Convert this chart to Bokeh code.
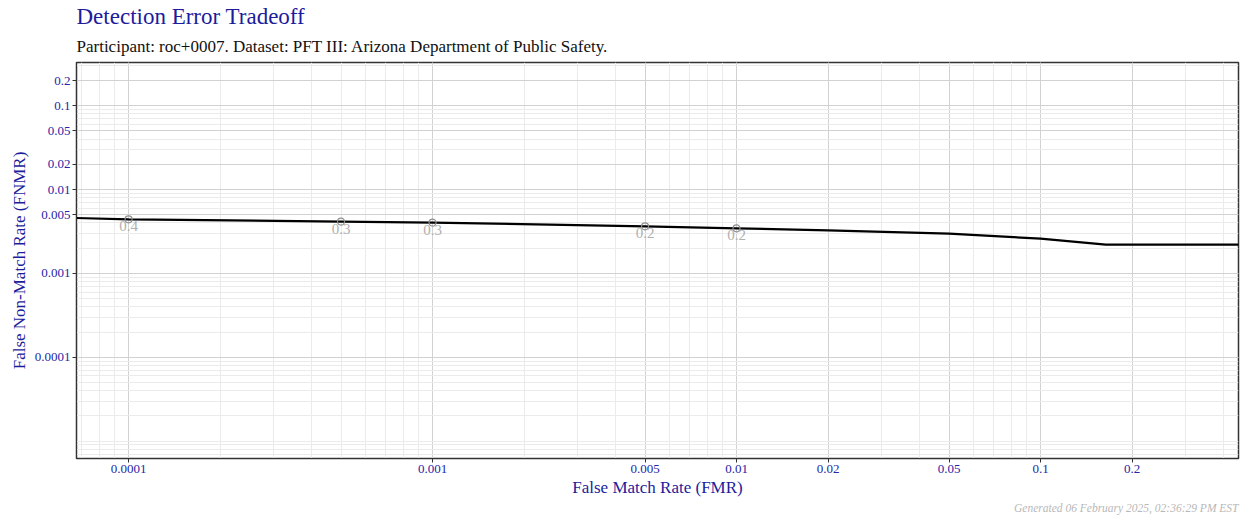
from bokeh.plotting import figure
from bokeh.models import FixedTicker, Title, ColumnDataSource, Range1d
from bokeh.embed import file_html
from bokeh.resources import INLINE

# ---- data ----
fmr = [6.7e-5, 1e-4, 5e-4, 1e-3, 5e-3, 1e-2, 2e-2, 5e-2, 1e-1, 0.164, 0.46]
fnmr = [0.00458, 0.00442, 0.00415, 0.00404, 0.00365, 0.00345, 0.00327, 0.00298, 0.0026, 0.00221, 0.00221]

thr_fmr = [1e-4, 5e-4, 1e-3, 5e-3, 1e-2]
thr_fnmr = [0.00442, 0.00415, 0.00404, 0.00365, 0.00345]
thr_labels = ["0.4", "0.3", "0.3", "0.2", "0.2"]

x_ticks = [0.0001, 0.001, 0.005, 0.01, 0.02, 0.05, 0.1, 0.2]
y_ticks = [0.0001, 0.001, 0.005, 0.01, 0.02, 0.05, 0.1, 0.2]
x_tick_labels = ["0.0001", "0.001", "0.005", "0.01", "0.02", "0.05", "0.1", "0.2"]
y_tick_labels = ["0.0001", "0.001", "0.005", "0.01", "0.02", "0.05", "0.1", "0.2"]

title_text = "Detection Error Tradeoff"
subtitle_text = "Participant: roc+0007. Dataset: PFT III: Arizona Department of Public Safety."
footer_text = "Generated 06 February 2025, 02:36:29 PM EST"
x_label = "False Match Rate (FMR)"
y_label = "False Non-Match Rate (FNMR)"

FONT = "Liberation Serif"
BLUE = "#1c1c9c"
TICKBLUE = "#2626a6"

def minors(lo_exp, hi_exp):
    out = []
    for e in range(lo_exp, hi_exp + 1):
        for m in range(1, 10):
            out.append(m * 10.0 ** e)
    return out

p = figure(width=1248, height=516, x_axis_type="log", y_axis_type="log",
           x_range=Range1d(6.74e-5, 0.448), y_range=Range1d(6.2e-6, 0.328),
           output_backend="svg", toolbar_location=None,
           min_border_left=76, min_border_right=10, min_border_top=62, min_border_bottom=58)

p.add_layout(Title(text=subtitle_text, text_font=FONT, text_font_size="17px",
                   text_font_style="normal", text_color="#111111", align="left",
                   standoff=13), "above")
p.add_layout(Title(text=title_text, text_font=FONT, text_font_size="23px",
                   text_font_style="normal", text_color=BLUE, align="left",
                   standoff=0), "above")
p.add_layout(Title(text=footer_text, text_font=FONT, text_font_size="11.5px",
                   text_font_style="italic", text_color="#b8b8b8", align="right",
                   standoff=0), "below")

p.xaxis.ticker = FixedTicker(ticks=x_ticks, minor_ticks=minors(-5, 0))
p.yaxis.ticker = FixedTicker(ticks=y_ticks, minor_ticks=minors(-6, 0))
p.xaxis.major_label_overrides = {t: l for t, l in zip(x_ticks, x_tick_labels)}
p.yaxis.major_label_overrides = {t: l for t, l in zip(y_ticks, y_tick_labels)}

for ax in (p.xaxis, p.yaxis):
    ax.major_label_text_font = FONT
    ax.major_label_text_font_size = "13px"
    ax.major_label_text_color = TICKBLUE
    ax.axis_label_text_font = FONT
    ax.axis_label_text_font_size = "17px"
    ax.axis_label_text_font_style = "normal"
    ax.axis_label_text_color = BLUE
    ax.axis_line_color = "#333333"
    ax.major_tick_line_color = "#333333"
    ax.major_tick_in = 0
    ax.major_tick_out = 4
    ax.minor_tick_line_color = None
    ax.major_label_standoff = 2

p.xaxis.axis_label = x_label
p.yaxis.axis_label = y_label
p.xaxis.axis_label_standoff = 2
p.yaxis.axis_label_standoff = 3

p.grid.grid_line_color = "#d2d2d2"
p.grid.grid_line_width = 1
p.grid.minor_grid_line_color = "#ebebeb"
p.grid.minor_grid_line_width = 1

p.outline_line_color = "#333333"
p.outline_line_width = 1.5
p.background_fill_color = "white"
p.border_fill_color = "white"

p.line(fmr, fnmr, line_color="black", line_width=2.2)

src = ColumnDataSource(dict(x=thr_fmr, y=thr_fnmr, t=thr_labels))
p.scatter("x", "y", source=src, size=7, fill_color=None, line_color="#909090", line_width=1.2)
p.text("x", "y", text="t", source=src, text_align="center", text_baseline="top",
       y_offset=2, text_color="#b0b0b0", text_font_size="15px",
       text_font={"value": FONT})

open("out.html", "w").write(file_html(p, INLINE))
